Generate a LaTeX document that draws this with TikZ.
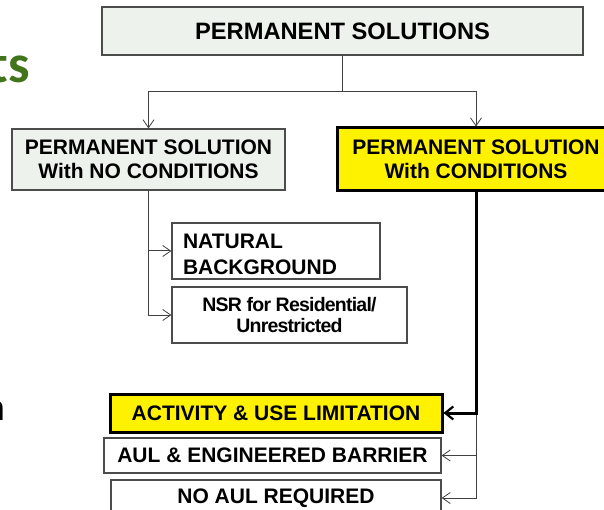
\documentclass[tikz,border=0pt]{standalone}
\usepackage{fontspec}
\setmainfont{Liberation Sans}
\newfontfamily\carlito{Carlito}
\newfontfamily\tightsans[LetterSpace=-4]{Liberation Sans}
\usetikzlibrary{arrows.meta}
\definecolor{boxgrey}{RGB}{238,242,236}
\definecolor{titlegreen}{RGB}{66,116,28}
\begin{document}
\begin{tikzpicture}[x=1pt,y=-1pt,
 box/.style={draw=black!70, line width=1.2pt, fill=white, inner sep=0pt, align=center,
   font=\bfseries\fontsize{21}{23.5}\selectfont},
 greybox/.style={box, fill=boxgrey},
 yellowbox/.style={box, draw=black, line width=3pt, fill=yellow},
 plainline/.style={draw=black!75, line width=1pt},
 conn/.style={plainline, -{Straight Barb[length=8pt,width=11pt,line width=0.8pt]}},
 thickconn/.style={draw=black, line width=3pt, -{Straight Barb[length=8pt,width=13pt,line width=2.2pt]}}
]
\useasboundingbox (0,0) rectangle (604,510);
\clip (0,0) rectangle (604,510);
\fill[white] (0,0) rectangle (604,510);

% partial slide texts
\node[anchor=base east, inner sep=0pt, text=titlegreen, font=\carlito\bfseries\fontsize{54}{54}\selectfont] (ts) at (30,83) {ts};
\node[anchor=base east, inner sep=0pt, font=\carlito\fontsize{40}{40}\selectfont] (nfrag) at (6,420) {n};

% boxes
\node[greybox, minimum width=481pt, minimum height=48pt, font=\bfseries\fontsize{23.7}{25}\selectfont] (top) at (342.5,31) {PERMANENT SOLUTIONS};
\node[greybox, minimum width=273pt, minimum height=61pt] (left) at (148.5,159.5) {PERMANENT SOLUTION\\With NO CONDITIONS};
\node[yellowbox, minimum width=278pt, minimum height=63pt] (right) at (476,159.5) {PERMANENT SOLUTION\\With CONDITIONS};
\node[box, minimum width=208pt, minimum height=56pt, text width=186pt, align=left,
  font=\bfseries\fontsize{21}{26}\selectfont] (natural) at (276,251) {\rule{0pt}{22pt}NATURAL\\BACKGROUND};
\node[box, minimum width=235pt, minimum height=56pt, font=\tightsans\bfseries\fontsize{19.5}{20.5}\selectfont] (nsr) at (289.5,315) {NSR for  Residential/\\Unrestricted};
\node[yellowbox, minimum width=332pt, minimum height=38pt] (activity) at (276,413) {ACTIVITY \& USE LIMITATION};
\node[box, minimum width=337pt, minimum height=35pt] (aul) at (272.5,455.5) {AUL \& ENGINEERED BARRIER};
\node[box, minimum width=330pt, minimum height=36pt] (noaul) at (276,498) {NO AUL REQUIRED};

% connectors
\coordinate (j1) at (342.5,92);
\draw[plainline] (top.south) -- (j1);
\draw[conn] (j1) -| (left.north);
\draw[conn] (j1) -| (right.north);
\draw[conn] (left.south) |- (natural.west);
\draw[conn] (left.south) |- (nsr.west);
\coordinate (j3) at (right.south |- activity.east);
\draw[conn] (j3) |- (aul.east);
\draw[conn] (j3) |- (noaul.east);
\draw[thickconn] (right.south) |- (activity.east);
\end{tikzpicture}
\end{document}
